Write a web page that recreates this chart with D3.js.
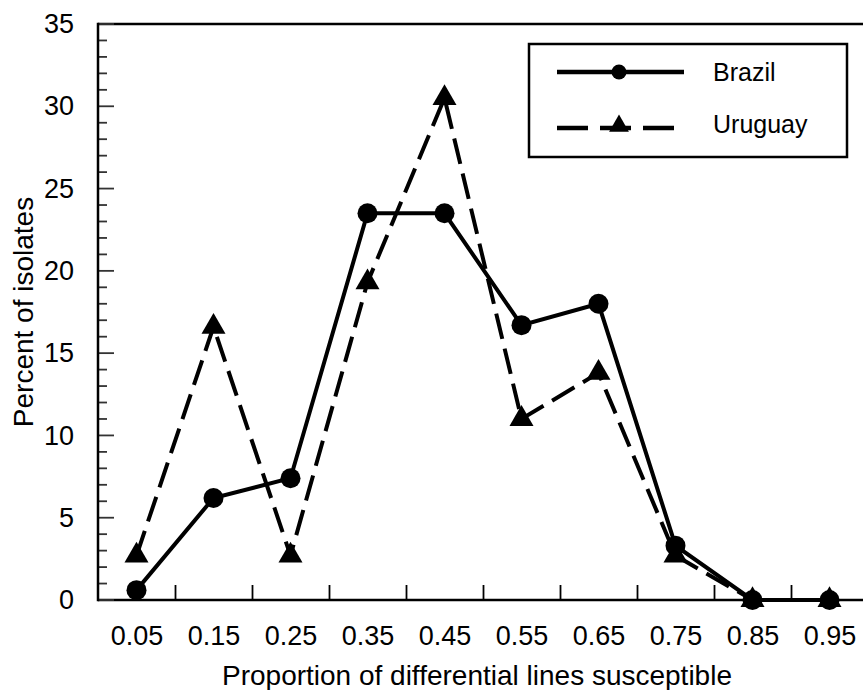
<!DOCTYPE html>
<html>
<head>
<meta charset="utf-8">
<script src="https://cdn.jsdelivr.net/npm/d3@7"></script>
<style>
  body { margin: 0; background: #fff; }
  text { font-family: "Liberation Sans", Arial, Helvetica, sans-serif; fill: #000; }
</style>
</head>
<body>
<script>
// data
let categories = [0.05, 0.15, 0.25, 0.35, 0.45, 0.55, 0.65, 0.75, 0.85, 0.95];
let brazil = [0.6, 6.2, 7.4, 23.5, 23.5, 16.7, 18.0, 3.3, 0, 0];
let uruguay = [2.7, 16.6, 2.7, 19.3, 30.5, 11.0, 13.8, 2.7, 0, 0];
let yTicks = [0, 5, 10, 15, 20, 25, 30, 35];
let xTickMarks = [0.1, 0.2, 0.3, 0.4, 0.5, 0.6, 0.7, 0.8, 0.9];

let width = 863, height = 690;

let x = d3.scaleLinear().domain([0, 1]).range([98, 868]);
let y = d3.scaleLinear().domain([0, 35]).range([600, 24]);

let svg = d3.select("body")
    .append("svg")
    .attr("width", width)
    .attr("height", height);

// frame (top + right)
svg.append("path")
    .attr("d", `M${x(0)},${y(35)}H${x(1)}V${y(0)}`)
    .attr("fill", "none")
    .attr("stroke", "#000")
    .attr("stroke-width", 2.5);

// x axis: labels at category centres, ticks between them
let xLab = svg.append("g")
    .attr("transform", `translate(0,${y(0)})`)
    .call(d3.axisBottom(x).tickValues(categories).tickSize(0).tickFormat(d3.format(".2f")));
xLab.select(".domain").remove();
xLab.selectAll("text").attr("y", 45).attr("dy", 0).style("font-size", "27px");

let xTk = svg.append("g")
    .attr("transform", `translate(0,${y(0)})`)
    .call(d3.axisBottom(x).tickValues(xTickMarks).tickSize(-15).tickFormat(""));
xTk.select(".domain").attr("stroke-width", 2.5).attr("d", `M${x(0)},0H${x(1)}`);
xTk.selectAll("line").attr("stroke-width", 1.8);

// y axis labels
let yAx = svg.append("g")
    .attr("transform", `translate(${x(0)},0)`)
    .call(d3.axisLeft(y).tickValues(yTicks).tickSize(0).tickPadding(24));
yAx.select(".domain").remove();
yAx.selectAll("text").style("font-size", "27px");

// y ticks, drawn inward
let yMinorVals = d3.range(1, 35).filter(d => d % 5 != 0);
svg.append("g")
    .selectAll("line")
    .data(yMinorVals)
    .enter().append("line")
    .attr("x1", x(0)).attr("x2", x(0) + 9)
    .attr("y1", d => y(d)).attr("y2", d => y(d))
    .attr("stroke", "#333")
    .attr("stroke-width", 1.8);

svg.append("g")
    .selectAll("line")
    .data(yTicks)
    .enter().append("line")
    .attr("x1", x(0)).attr("x2", x(0) + 16)
    .attr("y1", d => y(d)).attr("y2", d => y(d))
    .attr("stroke", "#333")
    .attr("stroke-width", 1.8);

svg.append("line")
    .attr("x1", x(0)).attr("x2", x(0))
    .attr("y1", y(0) + 1.25).attr("y2", y(35) - 1.25)
    .attr("stroke", "#000")
    .attr("stroke-width", 2.5);

// axis titles
svg.append("text")
    .attr("x", (x(0) + x(1)) / 2 - 6)
    .attr("y", 685)
    .attr("text-anchor", "middle")
    .style("font-size", "28px")
    .text("Proportion of differential lines susceptible");

svg.append("text")
    .attr("transform", `translate(33,${(y(0) + y(35)) / 2}) rotate(-90)`)
    .attr("text-anchor", "middle")
    .style("font-size", "28px")
    .text("Percent of isolates");

let line = d3.line()
    .x((d, i) => x(categories[i]))
    .y(d => y(d));

svg.append("path")
    .datum(uruguay)
    .attr("d", line)
    .attr("fill", "none")
    .attr("stroke", "#000")
    .attr("stroke-width", 4)
    .attr("stroke-dasharray", "26,10");

svg.append("path")
    .datum(brazil)
    .attr("d", line)
    .attr("fill", "none")
    .attr("stroke", "#000")
    .attr("stroke-width", 4);

let tri = d3.symbol().type(d3.symbolTriangle).size(250);

svg.append("g")
    .selectAll("path")
    .data(uruguay)
    .enter().append("path")
    .attr("d", tri)
    .attr("transform", (d, i) => `translate(${x(categories[i])},${y(d)})`)
    .attr("fill", "#000");

svg.append("g")
    .selectAll("circle")
    .data(brazil)
    .enter().append("circle")
    .attr("cx", (d, i) => x(categories[i]))
    .attr("cy", d => y(d))
    .attr("r", 10)
    .attr("fill", "#000");

// legend
let legend = svg.append("g");
legend.append("rect")
    .attr("x", 529).attr("y", 44)
    .attr("width", 318).attr("height", 113)
    .attr("fill", "#fff")
    .attr("stroke", "#000")
    .attr("stroke-width", 2.5);

legend.append("line")
    .attr("x1", 557).attr("x2", 684).attr("y1", 72).attr("y2", 72)
    .attr("stroke", "#000").attr("stroke-width", 4.5);
legend.append("circle")
    .attr("cx", 619).attr("cy", 72).attr("r", 7.5).attr("fill", "#000");
legend.append("text")
    .attr("x", 713).attr("y", 81)
    .style("font-size", "25px")
    .text("Brazil");

legend.append("line")
    .attr("x1", 557).attr("x2", 674).attr("y1", 128).attr("y2", 128)
    .attr("stroke", "#000").attr("stroke-width", 4.5)
    .attr("stroke-dasharray", "31,12");
legend.append("path")
    .attr("d", d3.symbol().type(d3.symbolTriangle).size(170))
    .attr("transform", "translate(619,126)")
    .attr("fill", "#000");
legend.append("text")
    .attr("x", 713).attr("y", 133)
    .style("font-size", "25px")
    .text("Uruguay");
</script>
</body>
</html>
